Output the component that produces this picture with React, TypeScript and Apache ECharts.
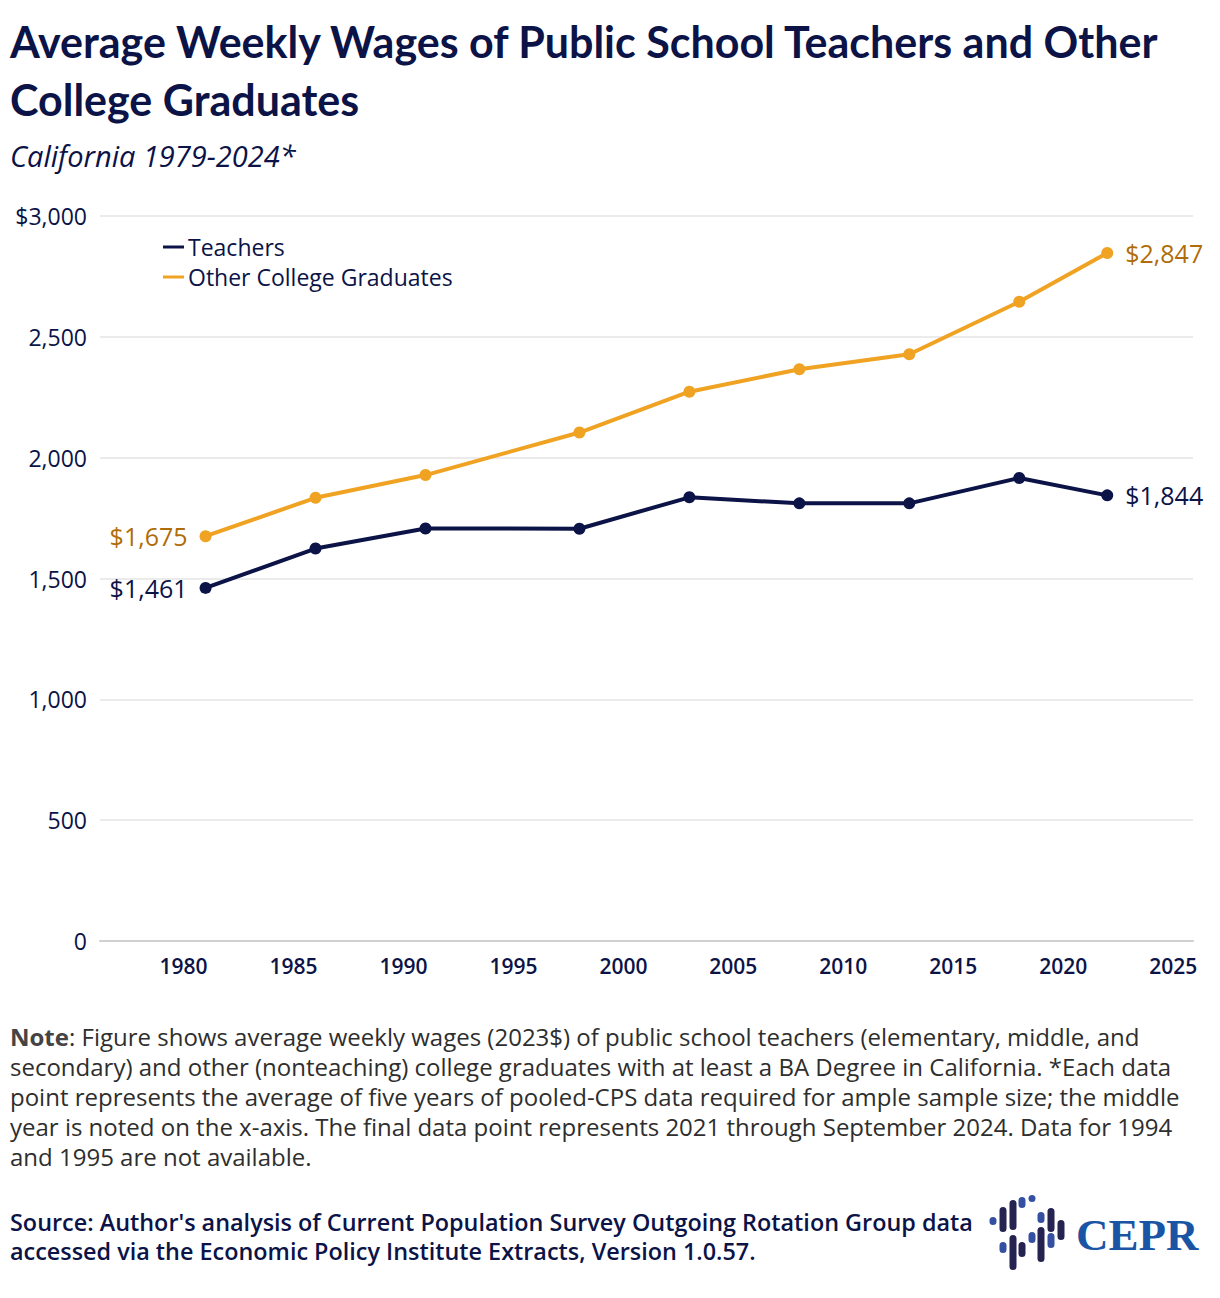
import React, { useEffect, useRef } from 'react'
import * as echarts from 'echarts'

// middle year of each five-year pooled sample
const years = [1981, 1986, 1991, 1998, 2003, 2008, 2013, 2018, 2022]
const teachers = [1461, 1624, 1707, 1706, 1836, 1811, 1811, 1916, 1844]
const otherGrads = [1675, 1834, 1928, 2104, 2273, 2366, 2428, 2645, 2847]
const xTicks = [1980, 1985, 1990, 1995, 2000, 2005, 2010, 2015, 2020, 2025]
const seriesNames = ['Teachers', 'Other College Graduates']

const NAVY = '#0b1347'
const GOLD = '#f0a322'
const GOLD_TEXT = '#b06c08'
const FONT = '"Open Sans", "Noto Sans", sans-serif'
const TITLE_FONT = 'Lato, "Open Sans", sans-serif'

const noteLines = [
  '{b|Note}: Figure shows average weekly wages (2023$) of public school teachers (elementary, middle, and',
  'secondary) and other (nonteaching) college graduates with at least a BA Degree in California. *Each data',
  'point represents the average of five years of pooled-CPS data required for ample sample size; the middle',
  'year is noted on the x-axis. The final data point represents 2021 through September 2024. Data for 1994',
  'and 1995 are not available.',
]
const sourceLines = [
  "Source: Author's analysis of Current Population Survey Outgoing Rotation Group data",
  'accessed via the Economic Policy Institute Extracts, Version 1.0.57.',
]

// logo pills: x, top, bottom, blue?
const logoPills: [number, number, number, boolean][] = [
  [993, 1217, 1225, true],
  [1003, 1207, 1232, false],
  [1013, 1200, 1230, false],
  [1022, 1197, 1208, true],
  [1032, 1195, 1201, true],
  [1003, 1242, 1253, true],
  [1013, 1235, 1270, false],
  [1022, 1242, 1257, false],
  [1032, 1232, 1243, true],
  [1041, 1212, 1223, true],
  [1041, 1227, 1262, false],
  [1051, 1208, 1232, false],
  [1051, 1233, 1248, true],
  [1061, 1220, 1240, false],
]

function fmt(v: number) {
  return v.toLocaleString('en-US')
}

function buildData(vals: number[], labelColor: string) {
  return vals.map((v, i) => {
    const first = i === 0
    const last = i === vals.length - 1
    return {
      value: [years[i], v],
      label: {
        show: first || last,
        position: first ? 'left' : 'right',
        distance: 12,
        formatter: '$' + fmt(v),
        color: labelColor,
        fontSize: 25,
        fontFamily: FONT,
      },
    }
  })
}

export default function App() {
  const chartRef = useRef<HTMLDivElement | null>(null)

  useEffect(() => {
    document.body.style.margin = '0'
    if (!chartRef.current) return
    const chart = echarts.init(chartRef.current, undefined, { renderer: 'svg' })

    const graphics: any[] = [
      {
        type: 'text',
        x: 10,
        y: 1021,
        style: {
          text: noteLines.join('\n'),
          fill: '#2e2e2e',
          font: `24px ${FONT}`,
          lineHeight: 30,
          rich: {
            b: { fontWeight: 'bold', fill: '#444', fontSize: 24, fontFamily: FONT, lineHeight: 30 },
          },
        },
      },
      {
        type: 'text',
        x: 10,
        y: 1207,
        style: {
          text: sourceLines.join('\n'),
          fill: NAVY,
          font: `600 23.4px ${FONT}`,
          lineHeight: 29,
        },
      },
      ...logoPills.map(([x, t, b, blue]) => ({
        type: 'rect',
        shape: { x: x - 3.5, y: t, width: 7, height: Math.max(b - t, 7), r: 3.5 },
        style: { fill: blue ? '#3550a0' : '#25234f' },
      })),
      {
        type: 'text',
        x: 1076,
        y: 1235,
        style: {
          text: 'CEPR',
          fill: '#1a55a5',
          font: 'bold 45px "Liberation Serif", "DejaVu Serif", serif',
          verticalAlign: 'middle',
        },
      },
    ]

    const option: any = {
      animation: false,
      title: [
        {
          text: 'Average Weekly Wages of Public School Teachers and Other\nCollege Graduates',
          left: 10,
          top: 12,
          padding: 0,
          textStyle: {
            color: NAVY,
            fontFamily: TITLE_FONT,
            fontWeight: 'bold',
            fontSize: 43,
            lineHeight: 58,
          },
        },
        {
          text: 'California 1979-2024*',
          left: 10,
          top: 141,
          padding: 0,
          textStyle: {
            color: NAVY,
            fontFamily: FONT,
            fontStyle: 'italic',
            fontWeight: 'normal',
            fontSize: 29,
          },
        },
      ],
      legend: {
        orient: 'vertical',
        left: 163,
        top: 235,
        padding: 0,
        itemWidth: 21,
        itemHeight: 3,
        itemGap: 6,
        icon: 'rect',
        data: seriesNames,
        textStyle: {
          color: NAVY,
          fontSize: 23,
          lineHeight: 24,
          height: 24,
          fontFamily: FONT,
          padding: [0, 0, 0, -1],
        },
      },
      grid: { left: 100, right: 27, top: 216, bottom: 357 },
      xAxis: {
        type: 'value',
        min: 1976.2,
        max: 2025.9,
        axisLine: { show: true, lineStyle: { color: '#d0d0d0', width: 2 } },
        axisTick: { show: false },
        splitLine: { show: false },
        axisLabel: {
          customValues: xTicks,
          formatter: (v: number) => String(v),
          color: NAVY,
          fontSize: 21,
          fontFamily: FONT,
          fontWeight: 600,
          margin: 14,
        },
      },
      yAxis: {
        type: 'value',
        min: 0,
        max: 3000,
        interval: 500,
        axisLine: { show: false },
        axisTick: { show: false },
        splitLine: { lineStyle: { color: '#e4e4e4', width: 1.5 } },
        axisLabel: {
          color: NAVY,
          fontSize: 23,
          fontFamily: FONT,
          margin: 13,
          formatter: (v: number) => (v === 3000 ? '$' + fmt(v) : fmt(v)),
        },
      },
      series: [
        {
          name: seriesNames[0],
          type: 'line',
          data: buildData(teachers, NAVY),
          symbol: 'circle',
          symbolSize: 12,
          lineStyle: { width: 4, color: NAVY },
          itemStyle: { color: NAVY },
          z: 3,
        },
        {
          name: seriesNames[1],
          type: 'line',
          data: buildData(otherGrads, GOLD_TEXT),
          symbol: 'circle',
          symbolSize: 12,
          lineStyle: { width: 4, color: GOLD },
          itemStyle: { color: GOLD },
          z: 2,
        },
      ],
      graphic: graphics,
    }

    chart.setOption(option)
    return () => {
      chart.dispose()
    }
  }, [])

  return <div ref={chartRef} style={{ width: 1220, height: 1298, background: '#fff' }} />
}
